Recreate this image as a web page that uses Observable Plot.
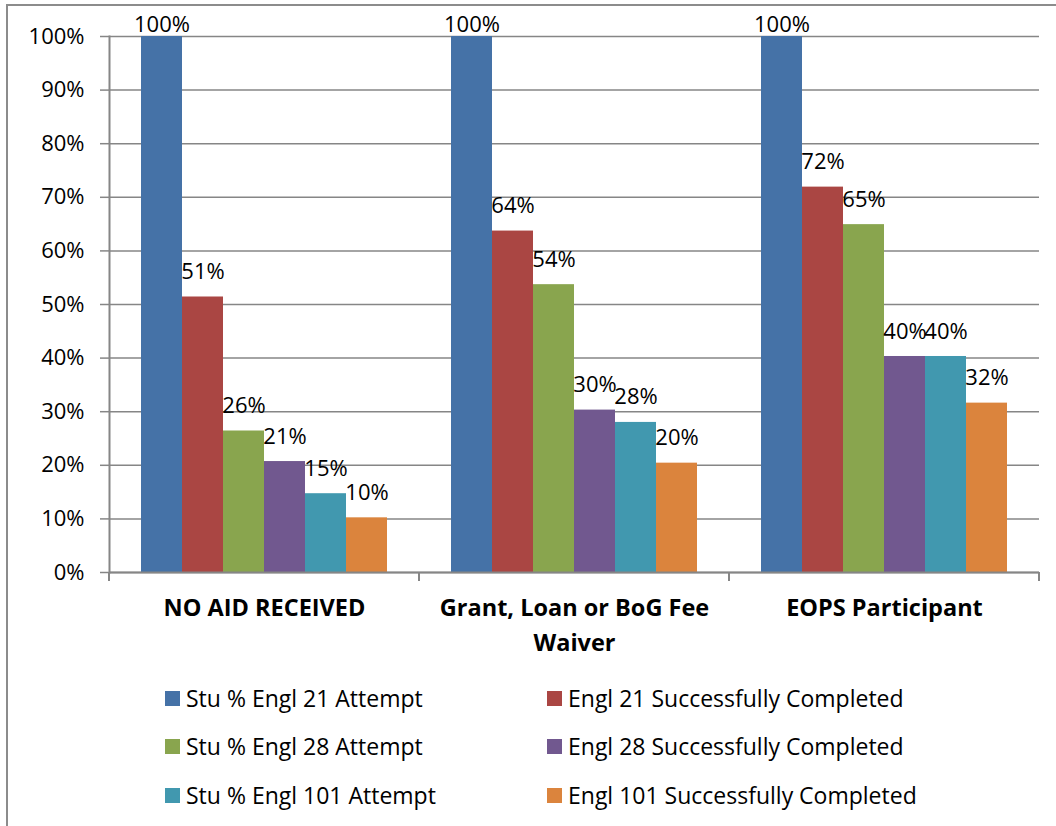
<!DOCTYPE html>
<html>
<head>
<meta charset="utf-8">
<script src="https://cdn.jsdelivr.net/npm/d3@7"></script>
<script src="https://cdn.jsdelivr.net/npm/@observablehq/plot@0.6"></script>
<style>
  html, body { margin: 0; padding: 0; background: #fff; }
  body { width: 1056px; height: 826px; position: relative; overflow: hidden; font-family: "Open Sans", sans-serif; }
  #border { position: absolute; left: 6px; top: 4px; right: -10px; bottom: -10px; border-left: 2px solid #8c8c8c; border-top: 2px solid #8c8c8c; }
  #chart { position: absolute; left: 0; top: 0; }
  #chart svg text { fill: #000; }
  #legend { position: absolute; left: 0; top: 665px; width: 1056px; }
  .item { position: absolute; display: flex; align-items: center; font-size: 23px; color: #000; white-space: nowrap; height: 30px; }
  .sw { width: 15px; height: 15px; margin-right: 6px; flex: none; }
</style>
</head>
<body>
<div id="border"></div>
<div id="chart"></div>
<div id="legend"></div>
<script>
const groups = ["NO AID RECEIVED", "Grant, Loan or BoG Fee Waiver", "EOPS Participant"];
const groupLabels = ["NO AID RECEIVED", "Grant, Loan or BoG Fee\nWaiver", "EOPS Participant"];
const series = [
  "Stu % Engl 21 Attempt",
  "Engl 21 Successfully Completed",
  "Stu % Engl 28 Attempt",
  "Engl 28 Successfully Completed",
  "Stu % Engl 101 Attempt",
  "Engl 101 Successfully Completed"
];
const colors = ["#4572A7", "#AA4643", "#89A54E", "#71588F", "#4198AF", "#DB843D"];
// percent values per series, across groups
const engl21Attempt    = [100, 100, 100];
const engl21Completed  = [51.4, 63.7, 71.9];
const engl28Attempt    = [26.4, 53.7, 64.9];
const engl28Completed  = [20.7, 30.3, 40.3];
const engl101Attempt   = [14.7, 28.0, 40.3];
const engl101Completed = [10.2, 20.4, 31.6];
const yTicks = [0, 0.1, 0.2, 0.3, 0.4, 0.5, 0.6, 0.7, 0.8, 0.9, 1.0];

const seriesValues = [engl21Attempt, engl21Completed, engl28Attempt, engl28Completed, engl101Attempt, engl101Completed];
const data = groups.flatMap((g, i) => series.map((s, j) => ({group: g, series: s, value: seriesValues[j][i] / 100})));
const pct = d => Math.round(d.value * 100) + "%";
const gray = "#868686";

const chart = Plot.plot({
  width: 1056,
  height: 665,
  marginLeft: 109,
  marginRight: 17,
  marginTop: 36,
  marginBottom: 93,
  style: {fontFamily: "Open Sans, sans-serif", fontSize: "22px", color: "#000", background: "transparent"},
  fx: {domain: groups, padding: 0, axis: null, label: null},
  x: {domain: series, paddingInner: 0, paddingOuter: 0.77, axis: null},
  y: {domain: [0, 1], axis: null},
  color: {domain: series, range: colors},
  marks: [
    Plot.gridY(yTicks, {stroke: gray, strokeOpacity: 1, strokeWidth: 1.5}),
    Plot.barY(data, {fx: "group", x: "series", y: "value", fill: "series"}),
    Plot.ruleY([0], {stroke: gray, strokeWidth: 2}),
    Plot.frame({anchor: "left", facetAnchor: "left", stroke: gray, strokeWidth: 2}),
    Plot.axisY(yTicks, {tickSize: 9, tickPadding: 16, stroke: gray, strokeWidth: 1.5, tickFormat: d => Math.round(d * 100) + "%", fontSize: 22, label: null, facetAnchor: "left"}),
    Plot.axisFx({anchor: "bottom", tickSize: 0, tickPadding: 18, lineHeight: 1.5, fontSize: 23.5, fontWeight: "bold", tickFormat: g => groupLabels[groups.indexOf(g)], label: null, textAnchor: "middle", lineAnchor: "top"}),
    Plot.text(data.filter(d => d.value < 1), {fx: "group", x: "series", y: "value", text: pct, dy: -25, fontSize: 22}),
    Plot.text(data.filter(d => d.value >= 1), {fx: "group", x: "series", y: "value", text: pct, dy: -12, fontSize: 22})
  ]
});
document.getElementById("chart").appendChild(chart);

// tick marks at group boundaries below the category axis, positioned with the fx scale
const fx = chart.scale("fx");
const yS = chart.scale("y");
const svg = d3.select(chart);
const bounds = groups.map(g => fx.apply(g)).concat([fx.apply(groups[groups.length - 1]) + fx.bandwidth]);
svg.append("g").selectAll("line").data(bounds).join("line")
  .attr("x1", d => d).attr("x2", d => d)
  .attr("y1", yS.apply(0)).attr("y2", yS.apply(0) + 9)
  .attr("stroke", gray).attr("stroke-width", 2);

// legend
const legend = document.getElementById("legend");
const colLeft = [165, 547];
const rowTop = [18, 66, 115];
series.forEach((s, i) => {
  const item = document.createElement("div");
  item.className = "item";
  item.style.left = colLeft[i % 2] + "px";
  item.style.top = rowTop[Math.floor(i / 2)] + "px";
  const sw = document.createElement("span");
  sw.className = "sw";
  sw.style.background = colors[i];
  const t = document.createElement("span");
  t.textContent = s;
  item.appendChild(sw);
  item.appendChild(t);
  legend.appendChild(item);
});
</script>
</body>
</html>
